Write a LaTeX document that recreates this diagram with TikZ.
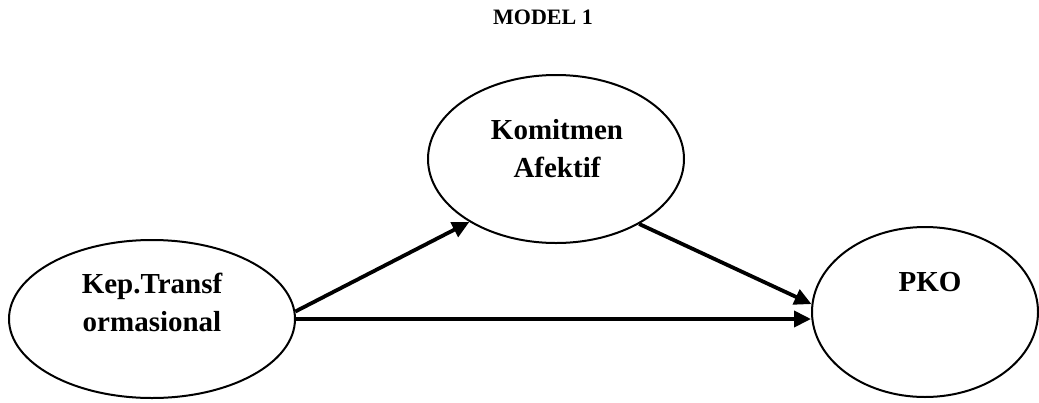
\documentclass[tikz,border=0pt]{standalone}
\usepackage{fontspec}
\setmainfont{Liberation Serif}
\usetikzlibrary{shapes.geometric,arrows.meta}
\begin{document}
\begin{tikzpicture}[x=1pt,y=-1pt,
  var/.style={draw, ellipse, line width=2pt, inner sep=0pt},
  vartext/.style={font=\bfseries\fontsize{29}{38}\selectfont, align=center, inner sep=0pt},
  path/.style={line width=3.8pt, -{Triangle[length=17pt,width=16pt]}}]
\useasboundingbox (0,0) rectangle (1039,402);
\node[font=\bfseries\fontsize{22}{26}\selectfont, inner sep=0pt] (title) at (543,17) {MODEL 1};
\node[var, minimum width=286pt, minimum height=158pt] (kep) at (152,319) {};
\node[var, minimum width=256pt, minimum height=168pt] (kom) at (556,159) {};
\node[var, minimum width=226pt, minimum height=170pt] (pko) at (925,312) {};
\node[vartext] (keptext) at (152,302) {Kep.Transf\\ormasional};
\node[vartext] (komtext) at (557,149) {Komitmen\\Afektif};
\node[vartext] (pkotext) at (930,282) {PKO};
\draw[path] (kep.3) -- (kom.216.7);
\draw[path] (kom.322.8) -- (pko.176.5);
\draw[path] (kep.east) -- (kep.east -| pko.west);
\end{tikzpicture}
\end{document}
